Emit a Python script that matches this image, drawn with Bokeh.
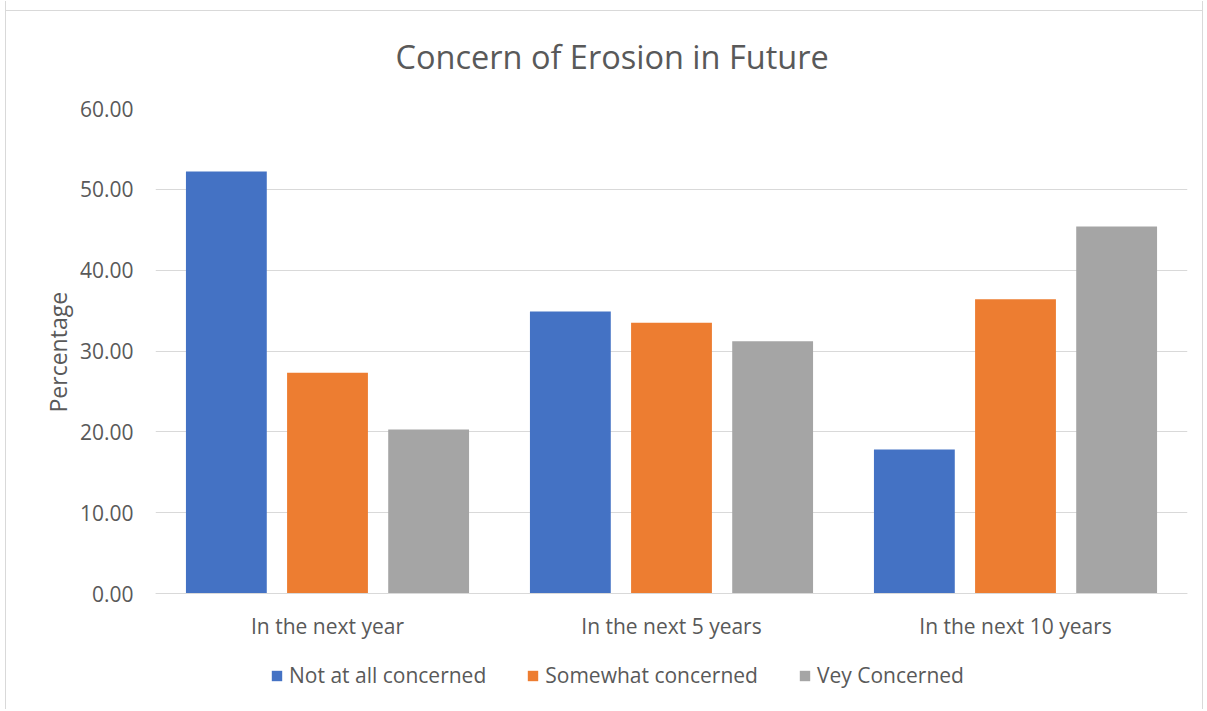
from bokeh.plotting import figure
from bokeh.models import ColumnDataSource, NumeralTickFormatter, Legend, LegendItem, FactorRange, Range1d, Title
from bokeh.transform import dodge
from bokeh.embed import file_html
from bokeh.resources import INLINE

categories = ["In the next year", "In the next 5 years", "In the next 10 years"]
series_names = ["Not at all concerned", "Somewhat concerned", "Vey Concerned"]
not_at_all = [52.2, 34.9, 17.8]
somewhat = [27.3, 33.5, 36.4]
very = [20.3, 31.2, 45.4]
colors = ["#4472C4", "#ED7D31", "#A5A5A5"]
y_ticks = [0, 10, 20, 30, 40, 50, 60]

src = ColumnDataSource(dict(cat=categories, a=not_at_all, b=somewhat, c=very))

FONT = "Open Sans"
TXT = "#595959"

# frame extends below the zero line so that the category axis and legend sit inside it
p = figure(x_range=FactorRange(*categories), y_range=Range1d(-14.35, 60), width=1198, height=708,
           output_backend="svg", toolbar_location=None,
           min_border_left=149, min_border_right=17, min_border_top=107, min_border_bottom=0)
p.border_fill_color = None

offsets = [-0.294, 0.0, 0.294]
renderers = []
for key, off, col in zip(["a", "b", "c"], offsets, colors):
    r = p.vbar(x=dodge("cat", off, range=p.x_range), top=key, width=0.235, source=src,
               fill_color=col, line_color=None)
    renderers.append(r)

p.title.text = "Concern of Erosion in Future"
p.title.align = "left"
p.title.text_font = FONT
p.title.text_font_size = "32.5px"
p.title.text_font_style = "normal"
p.title.text_color = TXT
p.title.offset = 240
p.title.standoff = 60

p.yaxis.ticker = y_ticks
p.yaxis.formatter = NumeralTickFormatter(format="0.00")
p.yaxis.axis_line_color = None
p.yaxis.major_tick_line_color = None
p.yaxis.minor_tick_line_color = None
p.yaxis.major_tick_out = 0
p.yaxis.major_label_text_font = FONT
p.yaxis.major_label_text_font_size = "21px"
p.yaxis.major_label_text_color = TXT
p.yaxis.major_label_standoff = 22

ylabel = Title(text="Percentage", align="left", offset=297, standoff=6,
               text_font=FONT, text_font_size="23px", text_font_style="normal", text_color=TXT)
p.add_layout(ylabel, "left")

p.xaxis.fixed_location = 0
p.xaxis.axis_line_color = "#D9D9D9"
p.xaxis.axis_line_width = 1
p.xaxis.major_tick_line_color = None
p.xaxis.minor_tick_line_color = None
p.xaxis.major_tick_out = 0
p.xaxis.major_label_text_font = FONT
p.xaxis.major_label_text_font_size = "21px"
p.xaxis.major_label_text_color = TXT
p.xaxis.major_label_standoff = 18

p.xgrid.grid_line_color = None
p.ygrid.grid_line_color = "#D9D9D9"
p.ygrid.grid_line_width = 1
p.outline_line_color = None

legend = Legend(items=[LegendItem(label=n, renderers=[r]) for n, r in zip(series_names, renderers)],
                orientation="horizontal", location=(115, 20))
legend.label_text_font = FONT
legend.label_text_font_size = "21px"
legend.label_text_color = TXT
legend.glyph_width = 13
legend.glyph_height = 13
legend.spacing = 40
legend.label_standoff = 6
legend.border_line_color = None
legend.background_fill_alpha = 0
legend.padding = 0
legend.margin = 0
p.add_layout(legend, "center")

# chart-area border: left/right edges plus a top line drawn as a background stripe
p.styles = {
    "margin-left": "5px",
    "margin-top": "1px",
    "border-left": "1px solid #D9D9D9",
    "border-right": "1px solid #D9D9D9",
    "background-image": "linear-gradient(#D9D9D9, #D9D9D9)",
    "background-size": "100% 1px",
    "background-position": "0 9px",
    "background-repeat": "no-repeat",
}

open("out.html", "w").write(file_html(p, INLINE))
